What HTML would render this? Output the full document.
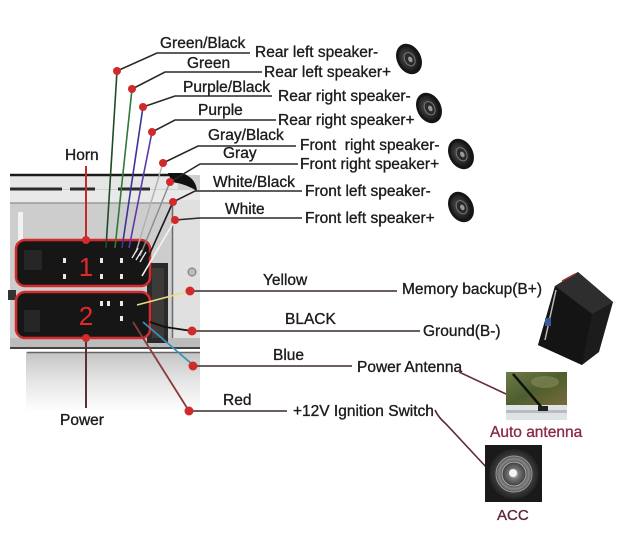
<!DOCTYPE html>
<html><head><meta charset="utf-8"><style>
html,body{margin:0;padding:0;background:#fff;}
svg{display:block;}
text{font-family:"Liberation Sans",sans-serif;font-size:15.5px;fill:#1c1c1c;stroke:#1c1c1c;stroke-width:0.35px;}
</style></head><body>
<svg width="640" height="541" viewBox="0 0 640 541" xmlns="http://www.w3.org/2000/svg">
<defs>
<linearGradient id="under" x1="0" y1="0" x2="0" y2="1">
<stop offset="0" stop-color="#c4c4c4"/><stop offset="0.5" stop-color="#e6e6e6"/><stop offset="1" stop-color="#ffffff"/>
</linearGradient>
<linearGradient id="ant" x1="0" y1="0" x2="1" y2="1">
<stop offset="0" stop-color="#6f7a4a"/><stop offset="0.5" stop-color="#4d5e2e"/><stop offset="1" stop-color="#7a6a3a"/>
</linearGradient>
<radialGradient id="spk" cx="0.45" cy="0.45" r="0.6">
<stop offset="0" stop-color="#666"/><stop offset="0.5" stop-color="#333"/><stop offset="1" stop-color="#111"/>
</radialGradient>
<radialGradient id="acc" cx="0.5" cy="0.5" r="0.5">
<stop offset="0" stop-color="#eee"/><stop offset="0.2" stop-color="#777"/><stop offset="0.45" stop-color="#444"/><stop offset="0.6" stop-color="#888"/><stop offset="0.75" stop-color="#3a3a3a"/><stop offset="1" stop-color="#222"/>
</radialGradient>
<g id="speaker">
<ellipse cx="0" cy="0" rx="12" ry="16" fill="#151515"/>
<ellipse cx="0" cy="0" rx="9.5" ry="13" fill="url(#spk)"/>
<ellipse cx="0.5" cy="0.5" rx="5" ry="7" fill="#2a2a2a" stroke="#777" stroke-width="1"/>
<ellipse cx="1" cy="1" rx="2" ry="3" fill="#999"/>
</g>
</defs>

<!-- chassis -->
<rect x="10" y="175" width="190" height="173" fill="#cfcfcf"/>
<rect x="10" y="176" width="168" height="13" fill="#e6e6e6"/>
<rect x="10" y="190" width="190" height="13" fill="#e9e9e9"/>
<line x1="10" y1="203" x2="200" y2="203" stroke="#9a9a9a" stroke-width="1.5"/>
<rect x="10" y="204" width="162" height="134" fill="#cdcdcd"/>
<rect x="172" y="200" width="28" height="146" fill="#e0e0e0"/>
<line x1="172.5" y1="200" x2="172.5" y2="345" stroke="#6a6a6a" stroke-width="1.5"/>
<line x1="10" y1="175" x2="176" y2="175" stroke="#1a1a1a" stroke-width="2.5"/>
<path d="M168,173 L182,173 Q196,178 197,191 Q186,184 172,182 Z" fill="#111"/>
<path d="M10,189 L62,189 M70,189 L95,189 M118,189 L150,189" stroke="#2a2a2a" stroke-width="3"/>
<rect x="18" y="212" width="5" height="30" fill="#f2f2f2"/>
<rect x="10" y="338" width="190" height="10" fill="#bcbcbc"/>
<line x1="10" y1="348" x2="200" y2="348" stroke="#444" stroke-width="2"/>
<rect x="26" y="352" width="174" height="60" fill="url(#under)"/>
<line x1="27" y1="352.5" x2="200" y2="352.5" stroke="#666" stroke-width="1.5"/>
<rect x="8" y="290" width="8" height="10" fill="#333"/>
<circle cx="192" cy="272" r="4" fill="#bbb" stroke="#777" stroke-width="1"/>

<!-- bracket -->
<rect x="147" y="263" width="21" height="80" fill="#2a2a2a"/>
<rect x="152" y="268" width="12" height="70" fill="#3d3a38"/>

<!-- connector 1 -->
<rect x="16" y="240" width="134" height="46" rx="9" fill="#161616" stroke="#d42c2c" stroke-width="2.5"/>
<rect x="24" y="250" width="18" height="20" fill="#262626"/>
<text x="86" y="276" text-anchor="middle" style="font-size:26px;fill:#e02a2a;stroke:none;">1</text>
<g fill="#e8e8e8">
<rect x="63" y="258" width="3" height="5"/><rect x="100" y="258" width="3" height="5"/><rect x="120" y="258" width="3" height="5"/>
<rect x="63" y="274" width="3" height="5"/><rect x="100" y="274" width="3" height="5"/><rect x="120" y="274" width="3" height="5"/>
</g>
<!-- connector 2 -->
<rect x="16" y="292" width="134" height="46" rx="9" fill="#161616" stroke="#d42c2c" stroke-width="2.5"/>
<rect x="24" y="310" width="16" height="22" fill="#262626"/>
<text x="86" y="325" text-anchor="middle" style="font-size:26px;fill:#e02a2a;stroke:none;">2</text>
<g fill="#e8e8e8">
<rect x="100" y="301" width="3" height="5"/><rect x="120" y="301" width="3" height="5"/><rect x="120" y="316" width="3" height="5"/><rect x="107" y="301" width="3" height="5"/>
</g>

<!-- horn / power -->
<line x1="86" y1="166" x2="86" y2="240" stroke="#c82828" stroke-width="2"/>
<circle cx="86" cy="240" r="4" fill="#d42a2a"/>
<line x1="86" y1="338" x2="86" y2="408" stroke="#5a3030" stroke-width="2"/>
<circle cx="86" cy="338" r="4" fill="#d42a2a"/>
<text x="65" y="160">Horn</text>
<text x="60" y="425">Power</text>

<!-- top wires -->
<line x1="117" y1="71" x2="106" y2="248" stroke="#1f4a2a" stroke-width="1.6"/>
<line x1="132" y1="89" x2="115" y2="248" stroke="#2f7a3a" stroke-width="1.6"/>
<line x1="143" y1="107" x2="122" y2="248" stroke="#3a3595" stroke-width="1.6"/>
<line x1="152" y1="132" x2="129" y2="248" stroke="#5a3aa8" stroke-width="1.6"/>
<line x1="163" y1="163" x2="136" y2="252" stroke="#b0b0b0" stroke-width="1.4"/>
<line x1="170" y1="182" x2="140" y2="256" stroke="#8a8a8a" stroke-width="1.4"/>
<line x1="173" y1="202" x2="146" y2="262" stroke="#1a1a1a" stroke-width="1.6"/>
<line x1="175" y1="220" x2="142" y2="276" stroke="#f4f4f4" stroke-width="1.6"/>
<g stroke="#f0f0f0" stroke-width="1.3">
<line x1="132" y1="258" x2="138" y2="248"/><line x1="136" y1="260" x2="142" y2="250"/><line x1="140" y1="262" x2="146" y2="252"/>
</g>

<!-- top leader lines -->
<g stroke="#2e2626" stroke-width="1.6" fill="none">
<polyline points="117,71 157,53 250,53"/>
<polyline points="132,89 165,72 262,72"/>
<polyline points="143,107 175,96 272,96"/>
<polyline points="152,132 175,120 276,120"/>
<polyline points="163,163 198,146 296,146"/>
<polyline points="170,182 200,164 298,164"/>
<polyline points="173,202 195,191 302,191"/>
<polyline points="175,220 200,218 302,218"/>
</g>
<g fill="#d02a2a">
<circle cx="117" cy="71" r="4"/><circle cx="132" cy="89" r="4"/><circle cx="143" cy="107" r="4"/><circle cx="152" cy="132" r="4"/>
<circle cx="163" cy="163" r="4"/><circle cx="170" cy="182" r="4"/><circle cx="173" cy="202" r="4"/><circle cx="175" cy="220" r="4"/>
</g>

<text x="160" y="48">Green/Black</text>
<text x="187" y="68">Green</text>
<text x="183" y="92">Purple/Black</text>
<text x="198" y="115">Purple</text>
<text x="208" y="140">Gray/Black</text>
<text x="223" y="158">Gray</text>
<text x="213" y="187">White/Black</text>
<text x="225" y="214">White</text>

<text x="255" y="57">Rear left speaker-</text>
<text x="264" y="77">Rear left speaker+</text>
<text x="278" y="101">Rear right speaker-</text>
<text x="278" y="125">Rear right speaker+</text>
<text x="300" y="150" xml:space="preserve">Front  right speaker-</text>
<text x="300" y="169">Front right speaker+</text>
<text x="305" y="196">Front left speaker-</text>
<text x="305" y="223">Front left speaker+</text>

<!-- speakers -->
<use href="#speaker" transform="translate(409,59) rotate(-28)"/>
<use href="#speaker" transform="translate(429,108) rotate(-28)"/>
<use href="#speaker" transform="translate(461,154) rotate(-28)"/>
<use href="#speaker" transform="translate(461,207) rotate(-28)"/>

<!-- lower wires -->
<line x1="137" y1="305" x2="190" y2="291" stroke="#eadc80" stroke-width="1.6"/>
<polyline points="150,322 165,327 192,331" stroke="#111" stroke-width="1.8" fill="none"/>
<line x1="143" y1="322" x2="193" y2="365" stroke="#3a92ba" stroke-width="1.8"/>
<line x1="133" y1="322" x2="189" y2="411" stroke="#8a3a3a" stroke-width="1.8"/>
<g stroke="#3a2a2a" stroke-width="1.6">
<line x1="190" y1="291" x2="397" y2="291"/>
<line x1="192" y1="331" x2="420" y2="331"/>
<line x1="193" y1="366" x2="352" y2="366"/>
<line x1="189" y1="411" x2="287" y2="411"/>
</g>
<g fill="#d02a2a">
<circle cx="190" cy="291" r="4.5"/><circle cx="192" cy="331" r="4.5"/><circle cx="193" cy="366" r="4.5"/><circle cx="189" cy="411" r="4.5"/>
</g>
<text x="263" y="285">Yellow</text>
<text x="285" y="324">BLACK</text>
<text x="273" y="360">Blue</text>
<text x="223" y="405">Red</text>

<text x="402" y="294">Memory backup(B+)</text>
<text x="423" y="336">Ground(B-)</text>
<text x="357" y="372">Power Antenna</text>
<text x="293" y="416">+12V Ignition Switch</text>

<polyline points="459,372 506,394" stroke="#6a2a3a" stroke-width="1.6" fill="none"/>
<path d="M435,410 Q438,417 446,424 L487,468" stroke="#5a2a3a" stroke-width="1.6" fill="none"/>

<!-- battery -->
<polygon points="555,286 578,272 613,302 599,352 582,365 538,345" fill="#1c1c1c"/>
<polygon points="555,286 578,272 613,302 592,314" fill="#2e2e2e"/>
<polygon points="555,286 592,314 582,365 538,345" fill="#141414"/>
<line x1="556" y1="290" x2="545" y2="340" stroke="#bbb" stroke-width="1.5"/>
<rect x="545" y="318" width="6" height="8" fill="#3a5a9a"/>
<line x1="562" y1="281" x2="575" y2="274" stroke="#a33" stroke-width="1.5"/>

<!-- auto antenna image -->
<rect x="506" y="372" width="61" height="34" fill="url(#ant)"/>
<ellipse cx="545" cy="382" rx="14" ry="6" fill="#8a8a5a" opacity="0.6"/>
<rect x="506" y="405" width="61" height="15" fill="#dfe3e6"/>
<rect x="506" y="410" width="61" height="3" fill="#b8bcc0"/>
<line x1="513" y1="374" x2="543" y2="409" stroke="#111" stroke-width="2.5"/>
<rect x="538" y="406" width="10" height="5" fill="#222"/>
<text x="490" y="437" style="fill:#8a2a4a;stroke:#8a2a4a;">Auto antenna</text>

<!-- ACC image -->
<rect x="485" y="445" width="57" height="57" fill="#1a1a1a"/>
<circle cx="514" cy="474" r="25" fill="url(#acc)"/>
<circle cx="514" cy="474" r="18" fill="none" stroke="#999" stroke-width="1"/>
<circle cx="514" cy="474" r="12" fill="none" stroke="#aaa" stroke-width="1"/>
<circle cx="513" cy="473" r="4" fill="#f4f4f4"/>
<text x="497" y="520" style="fill:#5a2a3a;stroke:#5a2a3a;font-size:15px;">ACC</text>
</svg>
</body></html>
